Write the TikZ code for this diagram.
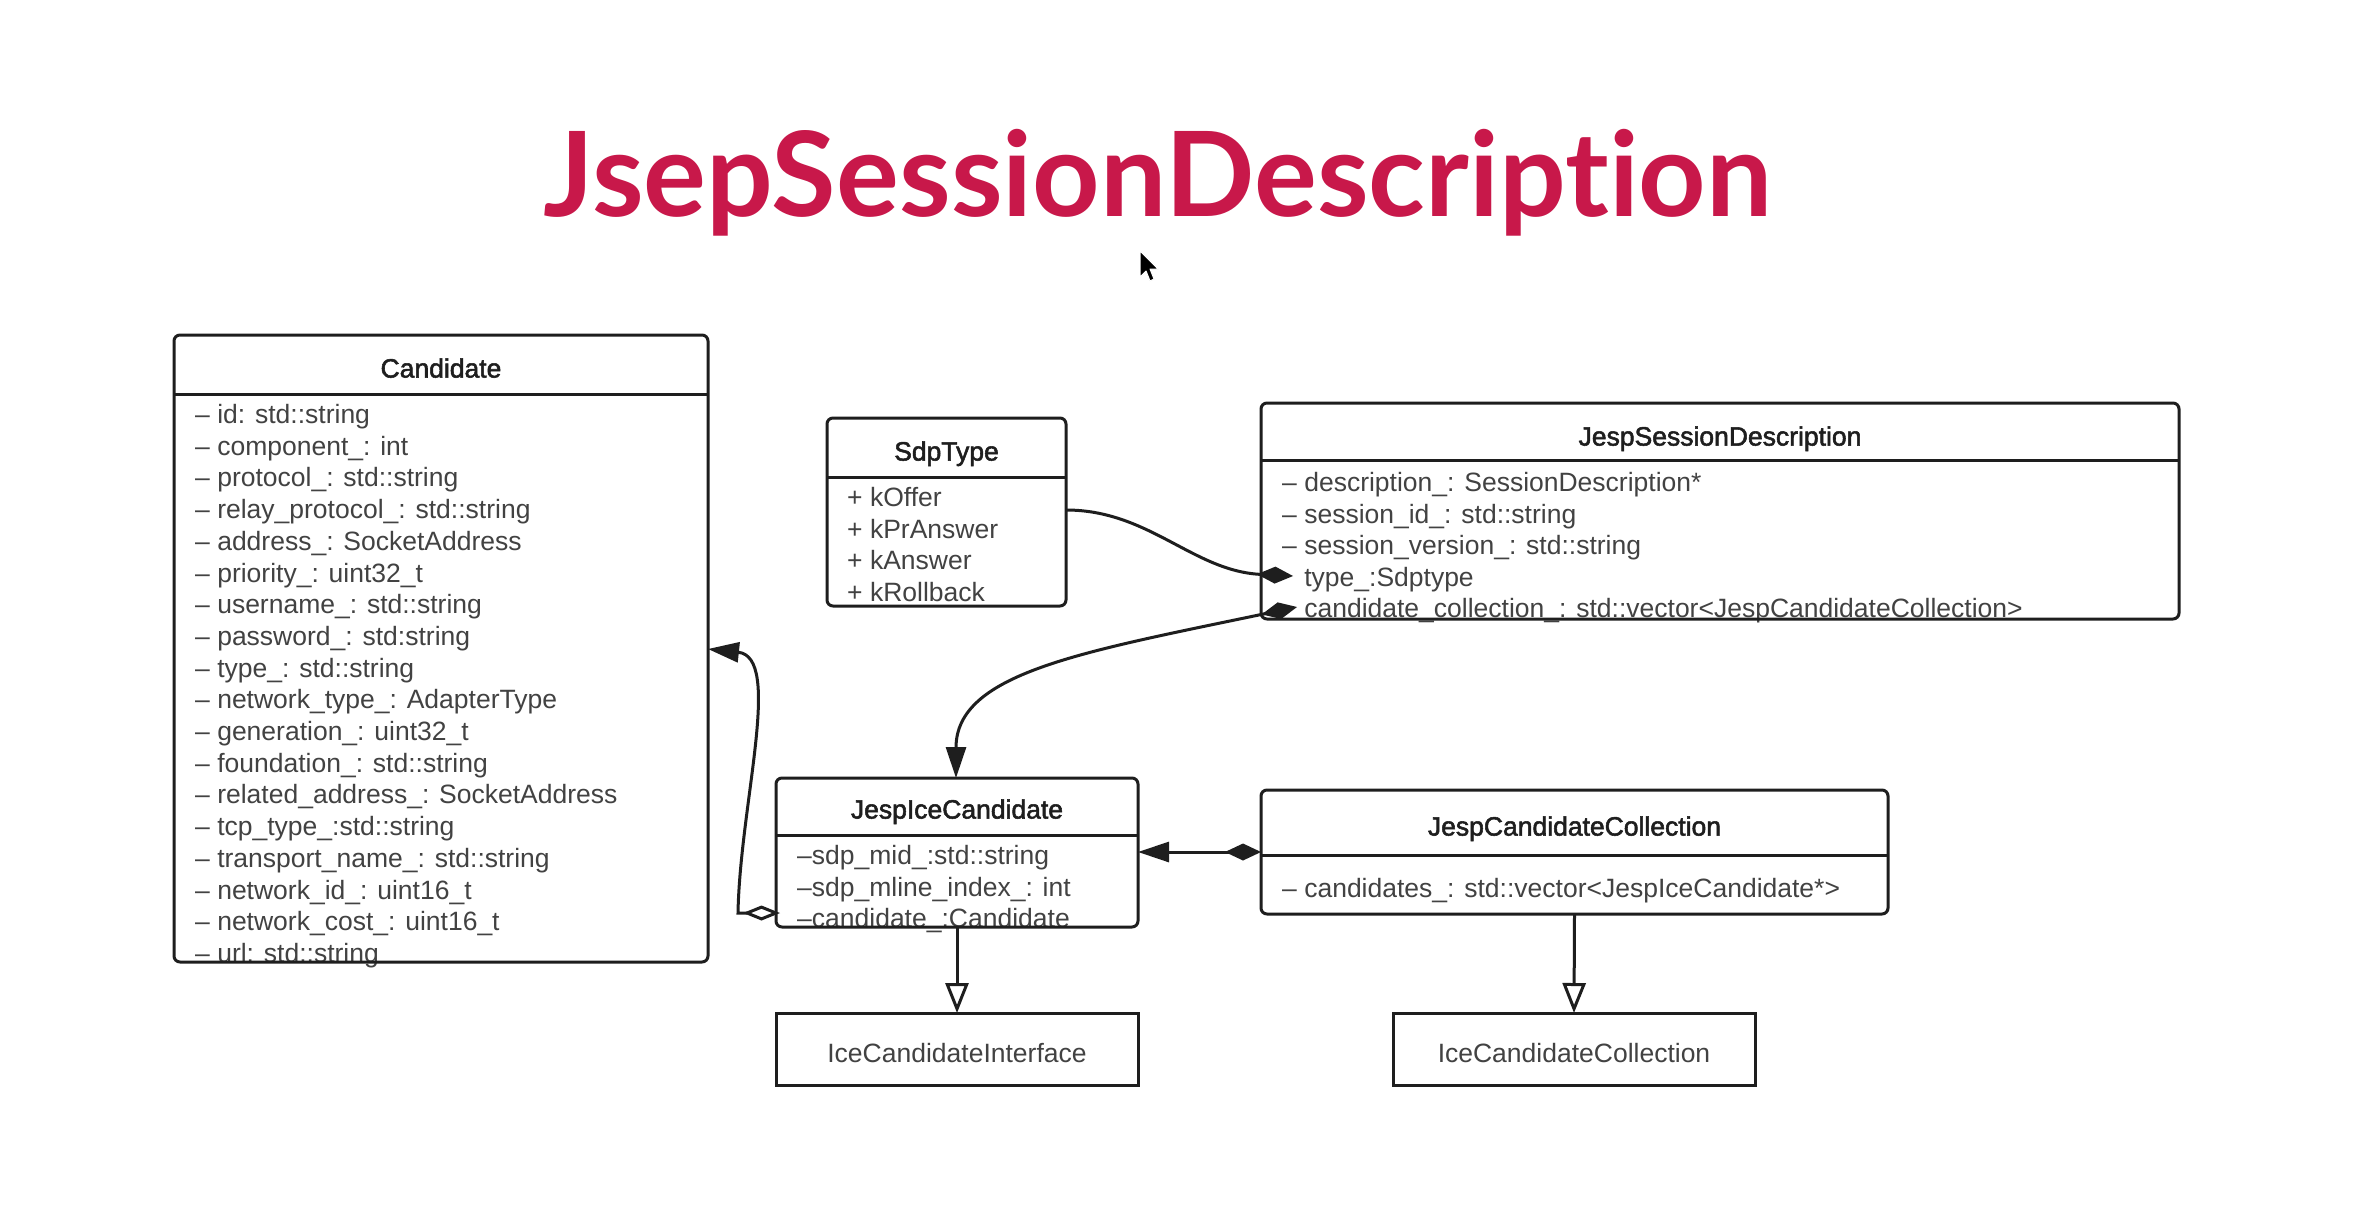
\documentclass[tikz,border=0pt]{standalone}
\usepackage{graphicx}
\usepackage{fontspec}
\setmainfont{Liberation Sans}
\newfontfamily\titlefont{Lato}[Ligatures={NoCommon,NoDiscretionary,NoContextual}]
\newfontfamily\headfont{Liberation Sans}[FakeBold=2]
\usetikzlibrary{arrows.meta,calc}
\definecolor{titlered}{RGB}{200,24,74}
\definecolor{linec}{RGB}{30,30,30}
\definecolor{rowc}{RGB}{66,66,66}
\definecolor{headc}{RGB}{30,30,30}
\tikzset{
  FDia/.tip={Diamond[length=36pt,width=17pt,fill=linec]},
  FTri/.tip={Triangle[length=31pt,width=20pt,fill=linec]},
  ODia/.tip={Diamond[open,length=37pt,width=15pt]},
  OTri/.tip={Triangle[open,length=30pt,width=23pt]},
}
\begin{document}
\begin{tikzpicture}[x=1pt,y=-1pt,
  shapebox/.style={anchor=north west,inner sep=0pt,outer sep=0pt,draw=none},
  border/.style={draw=linec,line width=3pt,rounded corners=6pt},
  plainborder/.style={draw=linec,line width=3pt},
  sepline/.style={draw=linec,line width=3pt},
  rowtext/.style={anchor=west,inner sep=0pt,yshift=-7pt,text=rowc,font=\fontsize{26.5}{30}\selectfont,text height=0.72em,text depth=0.21em},
  headtext/.style={anchor=center,inner sep=0pt,yshift=-7pt,text=headc,font=\headfont\fontsize{26.5}{30}\selectfont,text height=0.72em,text depth=0.21em},
  plaintext/.style={anchor=center,inner sep=0pt,yshift=-7pt,text=rowc,font=\fontsize{26.5}{30}\selectfont,text height=0.72em,text depth=0.21em},
  conn/.style={draw=linec,line width=3pt},
]
\fill[white] (0,0) rectangle (2368,1226);
\useasboundingbox (0,0) rectangle (2368,1226);

% title
\node[anchor=base,inner sep=0pt,text=titlered] (title) at (1158,216)
  {\resizebox{1228pt}{!}{\titlefont\bfseries JsepSessionDescription}};

% cursor
\filldraw[fill=black,draw=white,line width=1pt,line join=round]
  (1140,251) -- (1140,277) -- (1146,271) -- (1150,281) -- (1154,279) -- (1150,269) -- (1158,269) -- cycle;

% box shapes
\node[shapebox,minimum width=534pt,minimum height=627pt] (cand) at (174,335) {};
\node[shapebox,minimum width=239pt,minimum height=188pt] (sdp) at (827,418) {};
\node[shapebox,minimum width=918pt,minimum height=216pt] (jsd) at (1261,403) {};
\node[shapebox,minimum width=362pt,minimum height=149pt] (jic) at (776,778) {};
\node[shapebox,minimum width=627pt,minimum height=124pt] (jcc) at (1261,790) {};
\node[shapebox,minimum width=362pt,minimum height=72pt] (ici) at (776,1013) {};
\node[shapebox,minimum width=362pt,minimum height=72pt] (icc) at (1393,1013) {};

% Candidate
\node[headtext] (candt) at (441,368) {Candidate};
\foreach \t [count=\i from 0] in {
  {– id: std::string},
  {– component\_: int},
  {– protocol\_: std::string},
  {– relay\_protocol\_: std::string},
  {– address\_: SocketAddress},
  {– priority\_: uint32\_t},
  {– username\_: std::string},
  {– password\_: std:string},
  {– type\_: std::string},
  {– network\_type\_: AdapterType},
  {– generation\_: uint32\_t},
  {– foundation\_: std::string},
  {– related\_address\_: SocketAddress},
  {– tcp\_type\_:std::string},
  {– transport\_name\_: std::string},
  {– network\_id\_: uint16\_t},
  {– network\_cost\_: uint16\_t},
  {– url: std::string}}
  \node[rowtext] (cr\i) at (195,414+31.7*\i) {\t};

% SdpType
\node[headtext] (sdpt) at (946.5,451) {SdpType};
\foreach \t [count=\i from 0] in {{+ kOffer},{+ kPrAnswer},{+ kAnswer},{+ kRollback}}
  \node[rowtext] (sr\i) at (847,497+31.7*\i) {\t};

% JespSessionDescription
\node[headtext] (jsdt) at (1720,436) {JespSessionDescription};
\foreach \t [count=\i from 0] in {
  {– description\_: SessionDescription*},
  {– session\_id\_: std::string},
  {– session\_version\_: std::string},
  {\phantom{– }type\_:Sdptype},
  {\phantom{– }candidate\_collection\_: std::vector<JespCandidateCollection>}}
  \node[rowtext] (jr\i) at (1282,482+31.6*\i) {\t};

% JespIceCandidate
\node[headtext] (jict) at (957,809) {JespIceCandidate};
\foreach \t [count=\i from 0] in {
  {–sdp\_mid\_:std::string},
  {–sdp\_mline\_index\_: int},
  {–candidate\_:Candidate}}
  \node[rowtext] (ir\i) at (797,855+31.5*\i) {\t};

% JespCandidateCollection
\node[headtext] (jcct) at (1574.5,826) {JespCandidateCollection};
\node[rowtext] (ccr0) at (1282,888) {– candidates\_: std::vector<JespIceCandidate*>};

% interfaces
\node[plaintext] (icit) at (957,1053) {IceCandidateInterface};
\node[plaintext] (icct) at (1574,1053) {IceCandidateCollection};

% borders
\draw[border] (cand.north west) rectangle (cand.south east);
\draw[sepline] ($(cand.north west)+(0,59)$) -- ($(cand.north east)+(0,59)$);
\draw[border] (sdp.north west) rectangle (sdp.south east);
\draw[sepline] ($(sdp.north west)+(0,59)$) -- ($(sdp.north east)+(0,59)$);
\draw[border] (jsd.north west) rectangle (jsd.south east);
\draw[sepline] ($(jsd.north west)+(0,57)$) -- ($(jsd.north east)+(0,57)$);
\draw[border] (jic.north west) rectangle (jic.south east);
\draw[sepline] ($(jic.north west)+(0,57)$) -- ($(jic.north east)+(0,57)$);
\draw[border] (jcc.north west) rectangle (jcc.south east);
\draw[sepline] ($(jcc.north west)+(0,65)$) -- ($(jcc.north east)+(0,65)$);
\draw[plainborder] (ici.north west) rectangle (ici.south east);
\draw[plainborder] (icc.north west) rectangle (icc.south east);

% connectors
\draw[conn,-FDia] ($(sdp.north east)+(0,92)$) .. controls +(83,0) and +(-100,-5) .. ($(jsd.north west)+(32,173)$);
\draw[conn,FDia-FTri] ($(jsd.north west)+(36,204)$) .. controls +(-215,45) and +(0,-105) .. ($(jic.north west)+(180,0)$);
\draw[conn,FDia-FTri] ($(jcc.north west)+(0,62)$) -- ($(jic.north east)+(0,74)$);
\draw[conn,ODia-FTri] ($(jic.north west)+(4,135)$) -- ++(-42,0) .. controls +(2,-110) and +(75,8) .. ($(cand.north east)+(0,314)$);
\draw[conn,-OTri] (jic.south) -- (ici.north);
\draw[conn,-OTri] (jcc.south) -- (icc.north);
\end{tikzpicture}
\end{document}
